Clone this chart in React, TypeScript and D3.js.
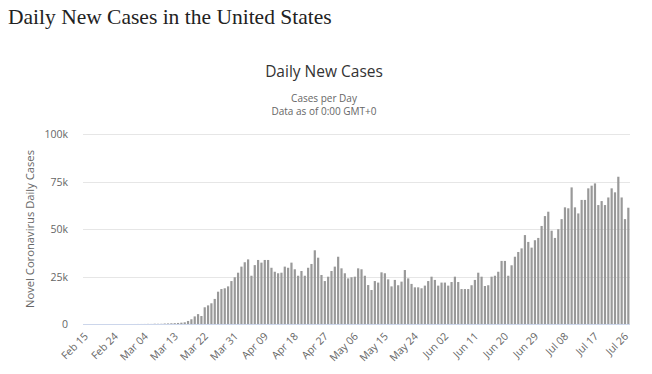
import { useEffect, useRef } from 'react';
import * as d3 from 'd3';

const WIDTH = 652;
const HEIGHT = 374;
const PLOT = { left: 83, right: 630, top: 134, bottom: 324 };

const START_DATE = new Date(2020, 1, 15);
const END_DATE = new Date(2020, 6, 28);

const TICK_LABELS = [
  'Feb 15', 'Feb 24', 'Mar 04', 'Mar 13', 'Mar 22', 'Mar 31', 'Apr 09',
  'Apr 18', 'Apr 27', 'May 06', 'May 15', 'May 24', 'Jun 02', 'Jun 11',
  'Jun 20', 'Jun 29', 'Jul 08', 'Jul 17', 'Jul 26',
];

const Y_TICKS = [0, 25000, 50000, 75000, 100000];
const Y_TICK_LABELS = ['0', '25k', '50k', '75k', '100k'];

// daily new cases, Feb 15 .. Jul 27
const DAILY_CASES = [
  // Feb 15 - Feb 29
  0, 0, 0, 0, 0, 0, 1, 0, 0, 1, 0, 0, 0, 3, 6,
  // Mar 01 - Mar 08
  8, 23, 20, 31, 68, 45, 140, 116,
  // Mar 09 - Mar 18
  120, 250, 300, 380, 450, 550, 700, 900, 1600, 2500,
  // Mar 19 - Apr 13
  4000, 5200, 4200, 8800, 9800, 10900, 13200, 17000, 18400, 18800, 19800,
  22600, 24600, 27000, 30200, 32500, 34000, 25400, 31000, 33700, 32300,
  33700, 33700, 29600, 27500, 26700,
  // Apr 14 - May 16
  27000, 30200, 29600, 32300, 28800, 25400, 27900, 25400, 29600, 31600,
  38800, 34900, 25800, 22600, 24900, 27900, 30200, 35400, 29300, 26700,
  24000, 24600, 24900, 29300, 28800, 25400, 20500, 17900, 22600, 21800,
  27200, 26700, 23500,
  // May 17 - Jun 19
  19800, 23200, 20400, 22300, 28400, 24000, 21100, 19300, 19300, 18800,
  20200, 22600, 24900, 23200, 20200, 21800, 21800, 20200, 22100, 24900,
  22100, 18400, 18400, 18400, 20400, 23200, 27000, 24900, 20000, 20400,
  24900, 25400, 27500, 33200,
  // Jun 20 - Jul 27
  33200, 25400, 30900, 35400, 37900, 39800, 46800, 43200, 40200, 44100,
  45300, 51600, 56800, 59100, 49100, 45300, 49900, 55200, 61400, 60900,
  71900, 61400, 58200, 65300, 65300, 71400, 72800, 74000, 62600, 64700,
  62600, 66600, 71400, 69300, 77500, 66600, 55200, 61200,
];

const FONT = '"Open Sans", "Noto Sans", sans-serif';
const LABEL_COLOR = '#666666';
const BAR_COLOR = '#999999';

export default function App() {
  const ref = useRef<SVGSVGElement | null>(null);

  useEffect(() => {
    if (!ref.current) return;
    const svg = d3.select(ref.current);
    svg.selectAll('*').remove();

    const fmt = d3.timeFormat('%b %d');
    const categories = d3.timeDay.range(START_DATE, END_DATE).map((d) => fmt(d));

    const x = d3
      .scaleBand<string>()
      .domain(categories)
      .range([PLOT.left, PLOT.right])
      .paddingInner(0.34)
      .paddingOuter(0.17);
    const y = d3.scaleLinear().domain([0, 100000]).range([PLOT.bottom, PLOT.top]);

    // page heading
    svg.append('text')
      .attr('x', 8)
      .attr('y', 24)
      .attr('font-family', '"Liberation Serif", "Times New Roman", serif')
      .attr('font-size', 21.5)
      .attr('fill', '#222')
      .text('Daily New Cases in the United States');

    // chart title + subtitle
    const cx = WIDTH / 2 - 2;
    svg.append('text')
      .attr('x', cx)
      .attr('y', 77)
      .attr('text-anchor', 'middle')
      .attr('font-family', FONT)
      .attr('font-size', 15.5)
      .attr('fill', '#333333')
      .text('Daily New Cases');
    svg.append('text')
      .attr('x', cx)
      .attr('y', 102)
      .attr('text-anchor', 'middle')
      .attr('font-family', FONT)
      .attr('font-size', 10)
      .attr('fill', LABEL_COLOR)
      .text('Cases per Day');
    svg.append('text')
      .attr('x', cx)
      .attr('y', 115)
      .attr('text-anchor', 'middle')
      .attr('font-family', FONT)
      .attr('font-size', 10)
      .attr('fill', LABEL_COLOR)
      .text('Data as of 0:00 GMT+0');

    // grid
    Y_TICKS.forEach((t, i) => {
      if (t > 0) {
        svg.append('line')
          .attr('x1', PLOT.left)
          .attr('x2', PLOT.right)
          .attr('y1', Math.round(y(t)) + 0.5)
          .attr('y2', Math.round(y(t)) + 0.5)
          .attr('stroke', '#e6e6e6')
          .attr('stroke-width', 1);
      }
      svg.append('text')
        .attr('x', 68)
        .attr('y', y(t) + 4)
        .attr('text-anchor', 'end')
        .attr('font-family', FONT)
        .attr('font-size', 10.5)
        .attr('fill', LABEL_COLOR)
        .text(Y_TICK_LABELS[i]);
    });

    // y axis title
    svg.append('text')
      .attr('transform', `translate(34,${(PLOT.top + PLOT.bottom) / 2}) rotate(-90)`)
      .attr('text-anchor', 'middle')
      .attr('font-family', FONT)
      .attr('font-size', 11)
      .attr('fill', LABEL_COLOR)
      .attr('textLength', 158)
      .attr('lengthAdjust', 'spacingAndGlyphs')
      .text('Novel Coronavirus Daily Cases');

    // bars
    svg.append('g')
      .selectAll('rect')
      .data(DAILY_CASES)
      .join('rect')
      .attr('x', (_, i) => x(categories[i]) ?? 0)
      .attr('y', (d) => y(d))
      .attr('width', x.bandwidth())
      .attr('height', (d) => PLOT.bottom - y(d))
      .attr('fill', BAR_COLOR);

    // x axis line
    svg.append('line')
      .attr('x1', PLOT.left)
      .attr('x2', PLOT.right)
      .attr('y1', PLOT.bottom + 0.5)
      .attr('y2', PLOT.bottom + 0.5)
      .attr('stroke', '#ccd6eb');

    // x tick labels
    TICK_LABELS.forEach((lab) => {
      const px = (x(lab) ?? 0) + x.bandwidth() / 2;
      svg.append('text')
        .attr('transform', `translate(${px + 4},${PLOT.bottom + 13}) rotate(-45)`)
        .attr('text-anchor', 'end')
        .attr('font-family', FONT)
        .attr('font-size', 10.5)
        .attr('fill', LABEL_COLOR)
        .text(lab);
    });
  }, []);

  return (
    <div style={{ position: 'absolute', left: 0, top: 0, width: WIDTH, height: HEIGHT, background: '#fff' }}>
      <svg ref={ref} width={WIDTH} height={HEIGHT} viewBox={`0 0 ${WIDTH} ${HEIGHT}`} />
    </div>
  );
}
